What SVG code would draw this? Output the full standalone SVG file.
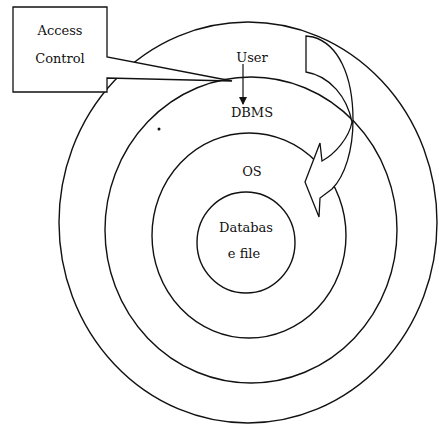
<svg xmlns="http://www.w3.org/2000/svg" width="439" height="428" viewBox="0 0 439 428">
<style>
.ring{fill:none;stroke:#111;stroke-width:1.4}
.shape{fill:#fff;stroke:#111;stroke-width:1.3;stroke-linejoin:miter}
text{font-family:'DejaVu Serif',serif;font-size:13px;fill:#111;text-anchor:middle}
</style>
<defs>
<marker id="ah" markerWidth="8" markerHeight="8" refX="7" refY="4" orient="auto" markerUnits="userSpaceOnUse">
<path d="M0,0 L8,4 L0,8 Z" fill="#111"/>
</marker>
</defs>
<rect width="439" height="428" fill="#fff"/>
<g id="ring-outer"><ellipse class="ring" cx="248" cy="222.5" rx="189" ry="200.5"/></g>
<g id="ring-dbms"><ellipse class="ring" cx="251" cy="230" rx="146" ry="153"/></g>
<g id="ring-os"><ellipse class="ring" cx="249" cy="235.5" rx="97" ry="102.5"/></g>
<g id="ring-db"><ellipse class="ring" cx="246" cy="242.5" rx="49" ry="50.5"/></g>
<circle cx="159" cy="129" r="1.5" fill="#111"/>
<g id="access-control">
<path class="shape" d="M13,7 L107,7 L107,57 L232,81 L107,78 L107,92 L13,92 Z"/>
<text x="60" y="35">Access</text>
<text x="60" y="63">Control</text>
</g>
<g id="curved-arrow">
<path class="shape" d="M306,36 L313,37 C338,44 353,75 353,120 C353,150 345,176 332,189 L320,198 L319,217 L305,182 L320,143 L322,161 C335,154 349,138 352,122 C347,97 330,76 306,72 Z"/>
</g>
<g id="labels">
<text x="252" y="62">User</text>
<text x="252" y="117">DBMS</text>
<text x="252" y="176">OS</text>
<text x="246" y="232">Databas</text>
<text x="244" y="258">e file</text>
</g>
<g id="connectors">
<line x1="243" y1="64" x2="243" y2="104" stroke="#111" stroke-width="1.2" marker-end="url(#ah)"/>
</g>
</svg>
